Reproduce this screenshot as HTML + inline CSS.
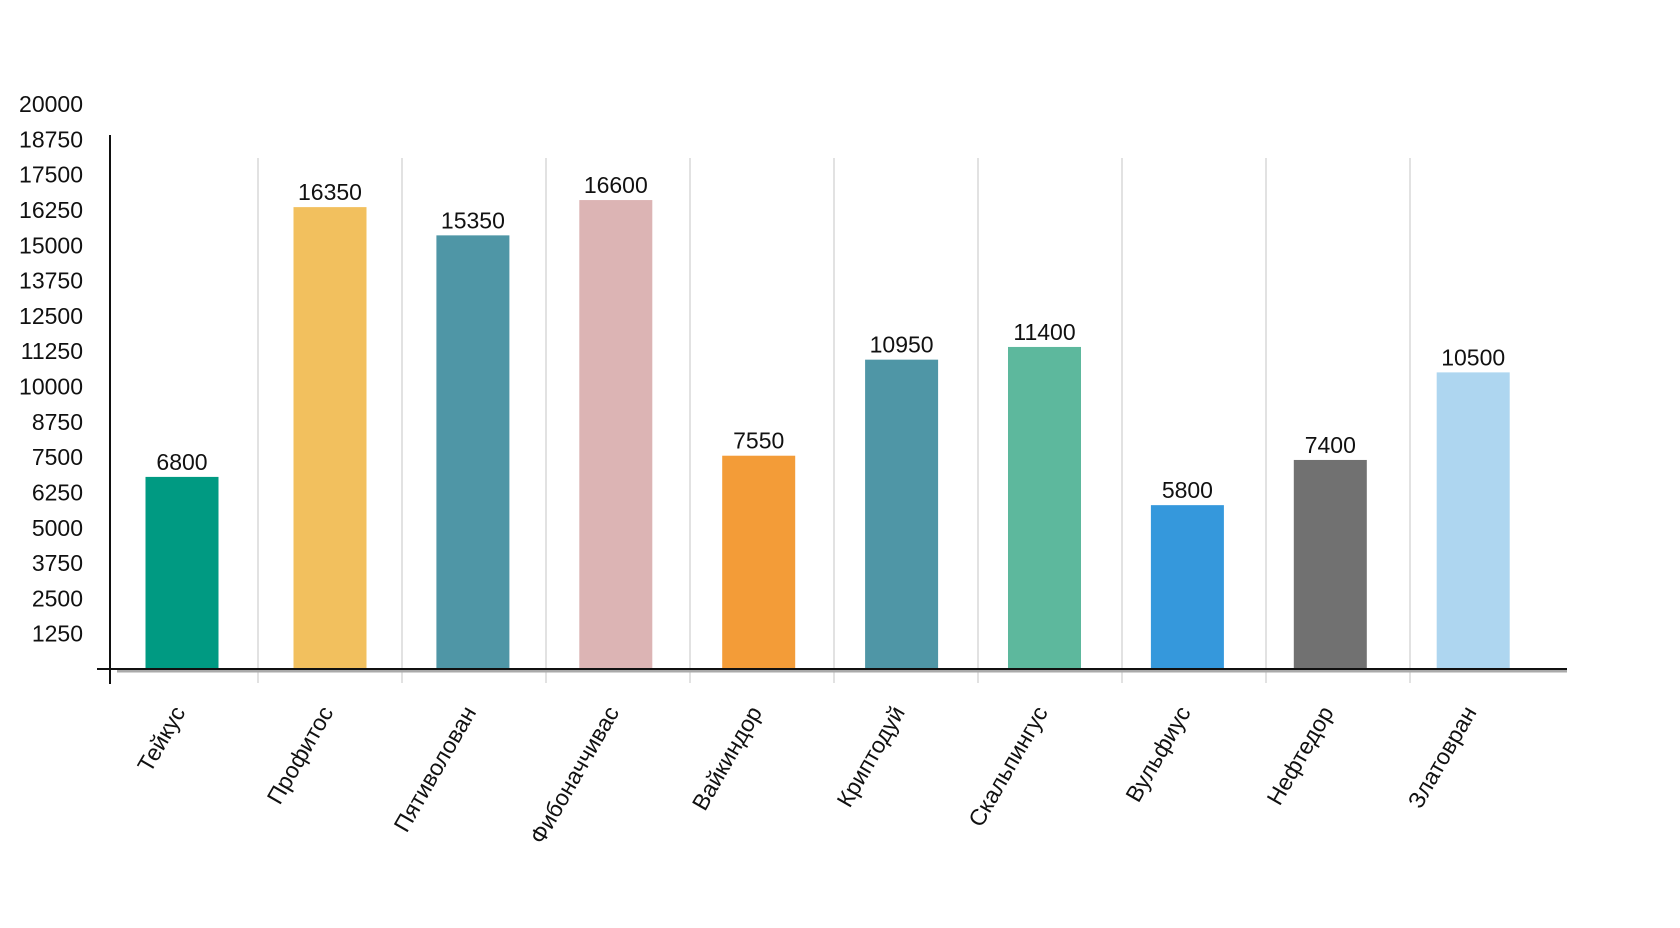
<!DOCTYPE html>
<html><head><meta charset="utf-8"><style>
html,body{margin:0;padding:0;background:#fff;}
svg{display:block;font-family:"Liberation Sans",sans-serif;}
</style></head><body>
<svg id="chart" width="1680" height="928" viewBox="0 0 1680 928" xmlns="http://www.w3.org/2000/svg"></svg>
<script>
const categories = ["Тейкус","Профитос","Пятиволован","Фибоначчивас","Вайкиндор","Криптодуй","Скальпингус","Вульфиус","Нефтедор","Златовран"];
const values = [6800,16350,15350,16600,7550,10950,11400,5800,7400,10500];
const colors = ["#009a82","#f2c05e","#4f96a6","#dcb4b4","#f39c38","#4f96a6","#5db89d","#3598dc","#717171","#aed6f0"];
const ticks = [1250,2500,3750,5000,6250,7500,8750,10000,11250,12500,13750,15000,16250,17500,18750,20000];

const NS="http://www.w3.org/2000/svg";
const svg=document.getElementById('chart');
const baseY=669, pxPer=565/20000;
const y=v=>baseY-v*pxPer;
const xc=i=>i===0?182:330+(i-1)*142.9;
function mk(tag,attrs,parent){const e=document.createElementNS(NS,tag);for(const k in attrs)e.setAttribute(k,attrs[k]);(parent||svg).appendChild(e);return e;}

for(let i=0;i<categories.length-1;i++){
  const g=mk('line',{x1:258+i*144,x2:258+i*144,y1:158,y2:683,stroke:'#e2e2e2','stroke-width':2});
  
  
}
const sh=mk('line',{x1:117,x2:1567,y1:baseY+2,y2:baseY+2,stroke:'#aaa','stroke-width':3});



categories.forEach((c,i)=>{
  const v=values[i];
  const r=mk('rect',{x:xc(i)-36.5,y:y(v),width:73,height:baseY-y(v),fill:colors[i]});
  
  
  const t=mk('text',{x:xc(i),y:y(v)-7,'text-anchor':'middle','font-size':23,fill:'#111'});
  t.textContent=v;
  
  
  const cx=xc(i)+4, cy=712;
  const l=mk('text',{x:cx,y:cy,'text-anchor':'end','font-size':23,fill:'#111',transform:`rotate(-60 ${cx} ${cy})`});
  l.textContent=c;
  
  
});

const ya=mk('line',{x1:110,x2:110,y1:135,y2:684,stroke:'#111','stroke-width':2});


const xa=mk('line',{x1:97,x2:1567,y1:baseY,y2:baseY,stroke:'#111','stroke-width':2});



ticks.forEach(tv=>{
  const t=mk('text',{x:83,y:y(tv)+8,'text-anchor':'end','font-size':23,fill:'#111'});
  t.textContent=tv;
  
  
});
</script>
</body></html>
